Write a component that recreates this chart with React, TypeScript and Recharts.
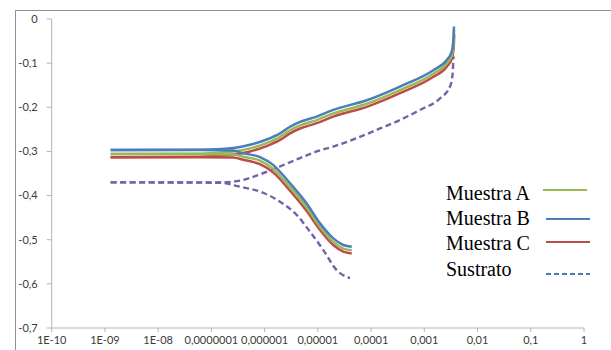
import React from "react";
import { LineChart, Line, XAxis, YAxis } from "recharts";

// Tick values and labels
const xTicks = [1e-10, 1e-9, 1e-8, 1e-7, 1e-6, 1e-5, 1e-4, 1e-3, 1e-2, 1e-1, 1];
const xTickLabels = ["1E-10", "1E-09", "1E-08", "0,0000001", "0,000001", "0,00001", "0,0001", "0,001", "0,01", "0,1", "1"];
const yTicks = [0, -0.1, -0.2, -0.3, -0.4, -0.5, -0.6, -0.7];
const yTickLabels = ["0", "-0,1", "-0,2", "-0,3", "-0,4", "-0,5", "-0,6", "-0,7"];

// Series names
const seriesNames = ["Muestra A", "Muestra B", "Muestra C", "Sustrato"];

// Muestra A (i = current density, e = potential)
const muestraAAnodica = [
  { i: 1.28e-9, e: -0.306 }, { i: 6.1e-8, e: -0.305 }, { i: 2.58e-7, e: -0.300 },
  { i: 5.31e-7, e: -0.293 }, { i: 1.09e-6, e: -0.281 }, { i: 1.95e-6, e: -0.267 },
  { i: 3.0e-6, e: -0.252 }, { i: 4.62e-6, e: -0.241 }, { i: 9.5e-6, e: -0.229 },
  { i: 1.95e-5, e: -0.214 }, { i: 8.28e-5, e: -0.192 }, { i: 3.49e-4, e: -0.161 },
  { i: 1.48e-3, e: -0.124 }, { i: 2.64e-3, e: -0.101 }, { i: 3.3e-3, e: -0.082 },
  { i: 3.55e-3, e: -0.056 }, { i: 3.62e-3, e: -0.025 },
];
const muestraACatodica = [
  { i: 1.28e-9, e: -0.306 }, { i: 6.1e-8, e: -0.306 }, { i: 2.58e-7, e: -0.307 },
  { i: 3.98e-7, e: -0.312 }, { i: 8.18e-7, e: -0.321 }, { i: 1.46e-6, e: -0.340 },
  { i: 3.0e-6, e: -0.381 }, { i: 6.17e-6, e: -0.427 }, { i: 1.1e-5, e: -0.471 },
  { i: 1.95e-5, e: -0.505 }, { i: 3.0e-5, e: -0.520 }, { i: 4.33e-5, e: -0.524 },
];

// Muestra B
const muestraBAnodica = [
  { i: 1.28e-9, e: -0.297 }, { i: 6.1e-8, e: -0.296 }, { i: 2.58e-7, e: -0.292 },
  { i: 5.31e-7, e: -0.285 }, { i: 1.09e-6, e: -0.273 }, { i: 1.95e-6, e: -0.259 },
  { i: 3.0e-6, e: -0.244 }, { i: 4.62e-6, e: -0.233 }, { i: 9.5e-6, e: -0.221 },
  { i: 1.95e-5, e: -0.206 }, { i: 8.28e-5, e: -0.184 }, { i: 3.49e-4, e: -0.153 },
  { i: 1.48e-3, e: -0.116 }, { i: 2.64e-3, e: -0.093 }, { i: 3.27e-3, e: -0.074 },
  { i: 3.51e-3, e: -0.048 }, { i: 3.61e-3, e: -0.017 },
];
const muestraBCatodica = [
  { i: 1.28e-9, e: -0.297 }, { i: 6.1e-8, e: -0.297 }, { i: 2.58e-7, e: -0.298 },
  { i: 3.98e-7, e: -0.304 }, { i: 8.18e-7, e: -0.313 }, { i: 1.46e-6, e: -0.331 },
  { i: 3.0e-6, e: -0.372 }, { i: 6.17e-6, e: -0.418 }, { i: 1.1e-5, e: -0.463 },
  { i: 1.95e-5, e: -0.497 }, { i: 3.0e-5, e: -0.512 }, { i: 4.33e-5, e: -0.516 },
];

// Muestra C
const muestraCAnodica = [
  { i: 1.28e-9, e: -0.313 }, { i: 6.1e-8, e: -0.312 }, { i: 2.58e-7, e: -0.307 },
  { i: 5.31e-7, e: -0.300 }, { i: 1.09e-6, e: -0.288 }, { i: 1.95e-6, e: -0.274 },
  { i: 3.0e-6, e: -0.259 }, { i: 4.62e-6, e: -0.248 }, { i: 9.5e-6, e: -0.236 },
  { i: 1.95e-5, e: -0.221 }, { i: 8.28e-5, e: -0.199 }, { i: 3.49e-4, e: -0.168 },
  { i: 1.48e-3, e: -0.131 }, { i: 2.64e-3, e: -0.108 }, { i: 3.3e-3, e: -0.089 },
  { i: 3.58e-3, e: -0.062 }, { i: 3.64e-3, e: -0.035 },
];
const muestraCCatodica = [
  { i: 1.28e-9, e: -0.313 }, { i: 6.1e-8, e: -0.313 }, { i: 2.58e-7, e: -0.314 },
  { i: 3.98e-7, e: -0.319 }, { i: 8.18e-7, e: -0.329 }, { i: 1.46e-6, e: -0.348 },
  { i: 3.0e-6, e: -0.389 }, { i: 6.17e-6, e: -0.435 }, { i: 1.1e-5, e: -0.478 },
  { i: 1.95e-5, e: -0.512 }, { i: 3.0e-5, e: -0.527 }, { i: 4.33e-5, e: -0.531 },
];

// Sustrato
const sustratoAnodica = [
  { i: 1.28e-9, e: -0.370 }, { i: 1.45e-7, e: -0.370 }, { i: 3.44e-7, e: -0.366 },
  { i: 8.18e-7, e: -0.352 }, { i: 1.95e-6, e: -0.334 }, { i: 4.62e-6, e: -0.315 },
  { i: 9.5e-6, e: -0.300 }, { i: 1.95e-5, e: -0.289 }, { i: 5.37e-5, e: -0.270 },
  { i: 1.47e-4, e: -0.248 }, { i: 3.49e-4, e: -0.229 }, { i: 8.3e-4, e: -0.206 },
  { i: 1.97e-3, e: -0.180 }, { i: 3.04e-3, e: -0.153 }, { i: 3.41e-3, e: -0.123 },
  { i: 3.51e-3, e: -0.093 }, { i: 3.55e-3, e: -0.085 },
];
const sustratoCatodica = [
  { i: 1.28e-9, e: -0.370 }, { i: 1.45e-7, e: -0.371 }, { i: 3.44e-7, e: -0.380 },
  { i: 8.18e-7, e: -0.391 }, { i: 1.95e-6, e: -0.414 }, { i: 4.01e-6, e: -0.444 },
  { i: 7.13e-6, e: -0.482 }, { i: 1.26e-5, e: -0.523 }, { i: 2.26e-5, e: -0.569 },
  { i: 4.02e-5, e: -0.587 },
];

const GREEN = "#98b954";
const BLUE = "#4a7ebb";
const RED = "#be4b48";
const PURPLE = "#7562a6";

const legendItems = [
  { name: seriesNames[0], color: GREEN, dash: undefined as string | undefined },
  { name: seriesNames[1], color: BLUE, dash: undefined as string | undefined },
  { name: seriesNames[2], color: RED, dash: undefined as string | undefined },
  { name: seriesNames[3], color: BLUE, dash: "5 3" },
];

const legendRowsY = [200, 225, 250, 276];
const legendLineY = [190, 219, 242, 274];

const CustomLegend = () => (
  <svg width={611} height={350} style={{ position: "absolute", left: 0, top: 0, pointerEvents: "none" }}>
    {legendItems.map((it, k) => (
      <g key={it.name}>
        <text x={446} y={legendRowsY[k]} fontFamily="'Liberation Serif', 'Times New Roman', serif" fontSize={20} fill="#000">
          {it.name}
        </text>
        <line
          x1={k === 0 ? 543 : 546}
          x2={k === 0 ? 587 : 590}
          y1={legendLineY[k]}
          y2={legendLineY[k]}
          stroke={it.color}
          strokeWidth={2.2}
          strokeDasharray={it.dash}
        />
      </g>
    ))}
  </svg>
);

export default function App() {
  const tickStyle = { fontFamily: "Lato, 'Open Sans', sans-serif", fontSize: 11, fill: "#3a3a3a" };
  return (
    <div style={{ position: "absolute", left: 0, top: 0, width: 611, height: 350, overflow: "hidden", background: "#fff" }}>
      <div style={{ position: "absolute", left: 15, top: 10, width: 800, height: 500, border: "1px solid #8f8f8f" }} />
      <div style={{ position: "absolute", left: 0, top: 0 }}>
        <LineChart width={611} height={350} margin={{ top: 19, right: 27, bottom: 0, left: 0 }}>
          <XAxis
            dataKey="i"
            type="number"
            scale="log"
            domain={[1e-10, 1]}
            ticks={xTicks}
            interval={0}
            allowDataOverflow
            height={22}
            tickSize={4}
            tickMargin={4}
            tick={tickStyle}
            stroke="#b5b5b5"
            tickFormatter={(v: number, idx: number) => xTickLabels[idx] ?? String(v)}
          />
          <YAxis
            type="number"
            domain={[-0.7, 0]}
            ticks={yTicks}
            interval={0}
            width={51.7}
            tickSize={5}
            tickMargin={9}
            tick={tickStyle}
            stroke="#b5b5b5"
            tickFormatter={(v: number, idx: number) => yTickLabels[idx] ?? String(v)}
          />
          <Line data={sustratoAnodica} dataKey="e" type="monotone" stroke={PURPLE} strokeWidth={2.4} strokeDasharray="6 3.5" dot={false} isAnimationActive={false} />
          <Line data={sustratoCatodica} dataKey="e" type="monotone" stroke={PURPLE} strokeWidth={2.4} strokeDasharray="6 3.5" dot={false} isAnimationActive={false} />
          <Line data={muestraCAnodica} dataKey="e" type="monotone" stroke={RED} strokeWidth={2.5} dot={false} isAnimationActive={false} />
          <Line data={muestraCCatodica} dataKey="e" type="monotone" stroke={RED} strokeWidth={2.5} dot={false} isAnimationActive={false} />
          <Line data={muestraAAnodica} dataKey="e" type="monotone" stroke={GREEN} strokeWidth={2.5} dot={false} isAnimationActive={false} />
          <Line data={muestraACatodica} dataKey="e" type="monotone" stroke={GREEN} strokeWidth={2.5} dot={false} isAnimationActive={false} />
          <Line data={muestraBAnodica} dataKey="e" type="monotone" stroke={BLUE} strokeWidth={2.5} dot={false} isAnimationActive={false} />
          <Line data={muestraBCatodica} dataKey="e" type="monotone" stroke={BLUE} strokeWidth={2.5} dot={false} isAnimationActive={false} />
        </LineChart>
      </div>
      <CustomLegend />
    </div>
  );
}
